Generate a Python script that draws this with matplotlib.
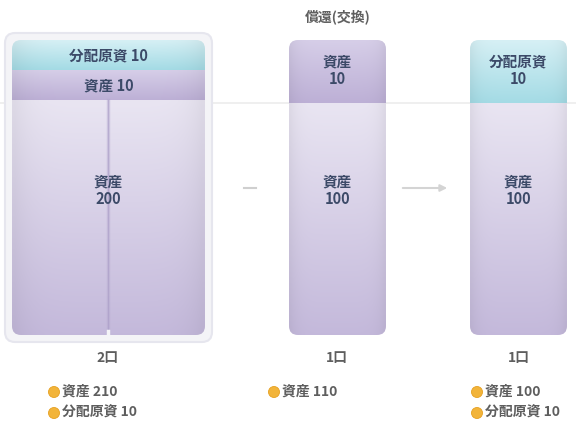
import numpy as np
import matplotlib.pyplot as plt
from matplotlib.patches import FancyBboxPatch, Circle
from matplotlib.colors import to_rgb

plt.rcParams['font.family'] = ['Noto Sans CJK JP', 'DejaVu Sans']

# 口数ごとの内訳（上から順）
units = ['2口', '1口', '1口']
seg_names = [['分配原資', '資産', '資産'], ['資産', '資産'], ['分配原資', '資産']]
seg_values = [[10, 10, 200], [10, 100], [10, 100]]
seg_kinds = [['cyan', 'dark', 'light'], ['dark', 'light'], ['cyan', 'light']]
totals_names = [['資産', '分配原資'], ['資産'], ['資産', '分配原資']]
totals_values = [[210, 10], [110], [100, 10]]
title = '償還(交換)'

COLORS = {
    'cyan': ('#d6f0f5', '#a4dbe5'),
    'dark': ('#d6cee8', '#bdb0d6'),
    'light': ('#e9e5f2', '#c4b9db'),
}
TEXT = '#3c4a68'
GRAY = '#5e5e5e'

# レイアウト（ピクセル座標）
bar_x = [12, 289, 470]
bar_w = [193, 97, 97]
bar_top, bar_bot = 40, 335
seg_px = [[30, 30, None], [63, None], [63, None]]
label_x = [108, 337, 519]
legend_x = [54, 274, 477]


def gradient(ax, x0, y0, x1, y1, c_top, c_bot, clip):
    t = np.linspace(0, 1, 64)[:, None, None]
    top, bot = np.array(to_rgb(c_top)), np.array(to_rgb(c_bot))
    img = top * (1 - t) + bot * t
    img = np.repeat(img, 32, axis=1)
    # 左右端をすこし暗く
    u = np.linspace(-1, 1, 32)
    shade = 1 - 0.05 * np.abs(u) ** 6
    img = img * shade[None, :, None]
    im = ax.imshow(img, extent=(x0, x1, y1, y0), aspect='auto',
                   interpolation='bilinear', zorder=2)
    im.set_clip_path(clip)


fig = plt.figure(figsize=(5.76, 4.23), dpi=100)
ax = fig.add_axes([0, 0, 1, 1])
ax.set_xlim(0, 576)
ax.set_ylim(423, 0)
ax.axis('off')

# 背景の水平線
ax.plot([0, 576], [103, 103], color='#ececec', lw=1.2, zorder=0)

# 2口の外枠
outer = FancyBboxPatch((5, 33), 207, 309, boxstyle='round,pad=0,rounding_size=10',
                       fc='#f4f4f7', ec='#e6e6ee', lw=1.5, zorder=1)
ax.add_patch(outer)

for i in range(len(units)):
    x0, w = bar_x[i], bar_w[i]
    clip = FancyBboxPatch((x0, bar_top), w, bar_bot - bar_top,
                          boxstyle='round,pad=0,rounding_size=9',
                          fc='none', ec='none', transform=ax.transData)
    ax.add_patch(clip)
    y = bar_top
    for name, val, kind, px in zip(seg_names[i], seg_values[i], seg_kinds[i], seg_px[i]):
        y1 = bar_bot if px is None else y + px
        gradient(ax, x0, y, x0 + w, y1, *COLORS[kind], clip)
        cx = x0 + w / 2
        if i == 0 and px is not None:
            ax.text(cx, (y + y1) / 2, f'{name} {val}', ha='center', va='center',
                    fontsize=10.5, fontweight='bold', color=TEXT, zorder=4)
        elif px is not None:
            ax.text(cx, (y + y1) / 2 - 1, f'{name}\n{val}', ha='center', va='center',
                    fontsize=10.5, fontweight='bold', color=TEXT, linespacing=1.1, zorder=4)
        else:
            ax.text(cx, 190, f'{name}\n{val}', ha='center', va='center',
                    fontsize=10.5, fontweight='bold', color=TEXT, linespacing=1.1, zorder=4)
        y = y1

    # 口数
    ax.text(label_x[i], 358, units[i], ha='center', va='center',
            fontsize=10, fontweight='bold', color=GRAY, zorder=4)

    # 合計の内訳
    lx = legend_x[i]
    for k, (n, v) in enumerate(zip(totals_names[i], totals_values[i])):
        ly = 392 + 21 * k
        ax.add_patch(Circle((lx, ly), 5.5, fc='#f2b43a', ec='#e6a020', lw=0.6, zorder=4))
        ax.text(lx + 8, ly, f'{n} {v}', ha='left', va='center',
                fontsize=10, fontweight='bold', color=GRAY, zorder=4)

# 2口の境目
ax.plot([108, 108], [100, 332], color='#b4a8ce', lw=2.5, alpha=0.45, zorder=3)
ax.plot([108, 108], [100, 332], color='#a99cc6', lw=0.8, alpha=0.6, zorder=3)
ax.plot([108, 108], [331, 336], color='#f4f4f7', lw=2.5, zorder=3)

# 記号
ax.plot([244, 256], [188, 188], color='#cfcfcf', lw=1.5, zorder=1)
ax.annotate('', xy=(450, 188), xytext=(400, 188),
            arrowprops=dict(arrowstyle='-|>', color='#d4d4d4', lw=1.5,
                            mutation_scale=10), zorder=1)

ax.text(338, 17, title, ha='center', va='center', fontsize=10,
        fontweight='bold', color='#606060')

fig.savefig('out.png', dpi=100)
